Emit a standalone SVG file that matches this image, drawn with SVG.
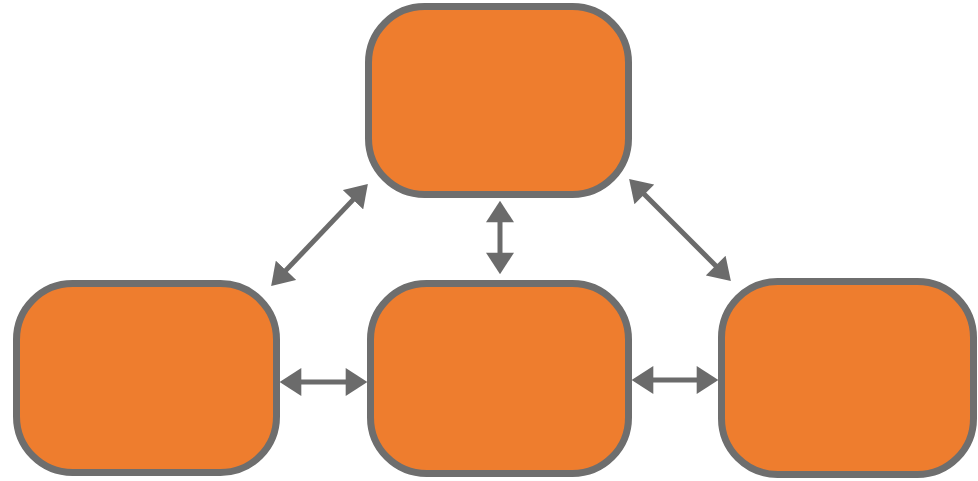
<svg xmlns="http://www.w3.org/2000/svg" width="978" height="481" viewBox="0 0 978 481">
<style>
.box{fill:#EE7D2E;stroke:#6E6E6E;stroke-width:7}
.con{stroke:#6B6B6B;stroke-width:5;fill:none;marker-start:url(#ah);marker-end:url(#ah)}
</style>
<defs>
<marker id="ah" markerUnits="userSpaceOnUse" markerWidth="22" markerHeight="28" viewBox="0 0 20 26" refX="4" refY="13" orient="auto-start-reverse">
<path d="M0,0 L20,13 L0,26 z" fill="#6B6B6B"/>
</marker>
</defs>
<rect width="978" height="481" fill="#FFFFFF"/>
<g id="node-top"><rect class="box" x="368.5" y="6.5" width="260" height="188" rx="56"/></g>
<g id="node-left"><rect class="box" x="16.5" y="283.5" width="260" height="189" rx="56"/></g>
<g id="node-middle"><rect class="box" x="370.5" y="283.5" width="258" height="190" rx="56"/></g>
<g id="node-right"><rect class="box" x="721.5" y="281.5" width="252" height="193" rx="56"/></g>
<g id="connectors">
<line class="con" x1="297" y1="382" x2="350" y2="382"/>
<line class="con" x1="649" y1="380" x2="701" y2="380"/>
<line class="con" x1="500" y1="218" x2="500" y2="257"/>
<line class="con" x1="283" y1="273.4" x2="356" y2="196.6"/>
<line class="con" x1="641.3" y1="191.3" x2="718.7" y2="268.7"/>
</g>
</svg>
